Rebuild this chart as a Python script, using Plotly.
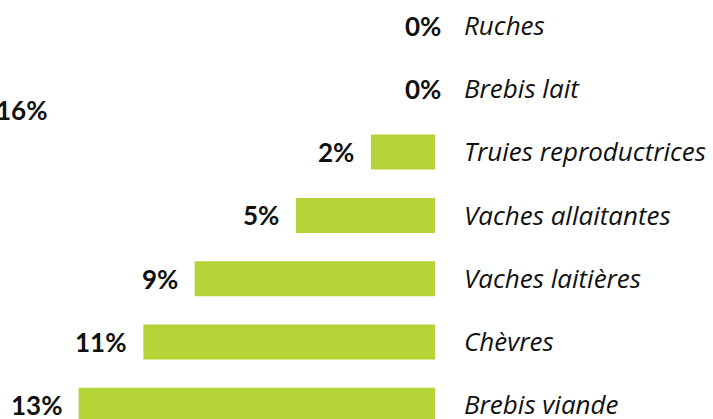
import plotly.graph_objects as go

categories = ["Ruches", "Brebis lait", "Truies reproductrices", "Vaches allaitantes",
              "Vaches laitières", "Chèvres", "Brebis viande"]
values = [0, 0, 2.37, 5.15, 8.9, 10.8, 13.2]
labels = ["0%", "0%", "2%", "5%", "9%", "11%", "13%"]
stray_label = "16%"

GREEN = "#B4D337"
W, H = 713, 419

fig = go.Figure(go.Bar(
    x=values, y=categories, orientation="h",
    marker=dict(color=GREEN, line=dict(width=0)),
    hoverinfo="skip",
))

for v, c, t in zip(values, categories, labels):
    fig.add_annotation(
        x=v, y=c, text=f"<b>{t}</b>", showarrow=False,
        xanchor="right", yanchor="middle",
        xshift=-15 if v > 0 else 8,
        font=dict(family="Lato", size=26, color="#111111"),
    )

fig.add_annotation(
    xref="paper", yref="paper", x=49 / 435, y=1 - 110 / H,
    text=f"<b>{stray_label}</b>", showarrow=False,
    xanchor="right", yanchor="middle",
    font=dict(family="Lato", size=26, color="#111111"),
)

fig.update_layout(
    width=W, height=H,
    margin=dict(l=0, r=278, t=0, b=0, autoexpand=False),
    paper_bgcolor="white", plot_bgcolor="white",
    bargap=0.447,
    showlegend=False,
    xaxis=dict(range=[435 / 27, 0], showgrid=False, zeroline=False, automargin=False,
               showticklabels=False, showline=False, ticks=""),
    yaxis=dict(range=[-0.403 + H / 63.3, -0.403], side="right", automargin=False,
               showgrid=False, zeroline=False, showline=False, ticks="",
               ticklabelstandoff=28,
               tickfont=dict(family="Open Sans", size=26, color="#111111", style="italic")),
)

fig.write_html("out.html", config={"displayModeBar": False},
               post_script="document.body.style.margin='0';document.body.style.overflow='hidden';")
